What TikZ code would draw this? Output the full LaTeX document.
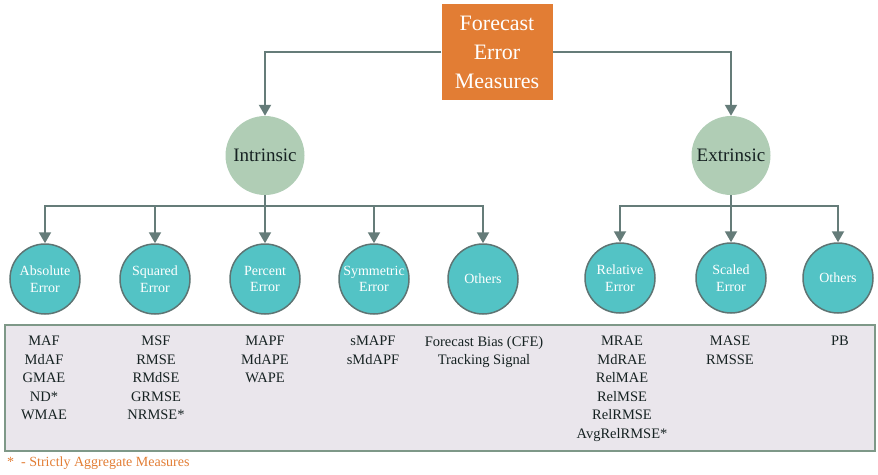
\documentclass[tikz,border=0pt]{standalone}
\usepackage{fontspec}
\setmainfont{Liberation Serif}
\usetikzlibrary{arrows.meta,positioning}
\definecolor{rootorange}{RGB}{226,125,52}
\definecolor{branchgreen}{RGB}{176,205,181}
\definecolor{leafteal}{RGB}{83,195,197}
\definecolor{leafedge}{RGB}{94,116,115}
\definecolor{arrowgray}{RGB}{101,124,121}
\definecolor{listfill}{RGB}{234,230,236}
\definecolor{listedge}{RGB}{126,152,136}
\definecolor{listtext}{RGB}{22,34,34}
\begin{document}
\begin{tikzpicture}[x=1pt,y=-1pt,
    root/.style={fill=rootorange,text=white,minimum width=111pt,minimum height=96pt,
      align=center,font=\fontsize{22}{29}\selectfont},
    branch/.style={circle,fill=branchgreen,minimum size=79pt,inner sep=0pt,
      text=listtext,font=\fontsize{19}{22}\selectfont},
    leaf/.style={circle,draw=leafedge,line width=1.5pt,fill=leafteal,text=white,
      minimum size=70pt,inner sep=0pt,align=center,font=\fontsize{14}{16.5}\selectfont},
    arr/.style={draw=arrowgray,line width=2pt,-{Triangle[width=12pt,length=11pt]}},
    measures/.style={anchor=north,align=center,inner sep=0pt,text=listtext,
      font=\fontsize{14.5}{18.5}\selectfont}]
  \useasboundingbox (0,0) rectangle (878,474);
  % top and the two branches
  \node[root] (fem) at (497,52) {Forecast\\Error\\Measures};
  \node[branch] (intr) at (265,155.5) {Intrinsic};
  \node[branch] (extr) at (731,155.5) {Extrinsic};
  \draw[arr] (fem.west) -| (intr.north);
  \draw[arr] (fem.east) -| (extr.north);
  % leaves
  \node[leaf] (abs) at (45,279) {Absolute\\Error};
  \node[leaf] (sqr) at (155,279) {Squared\\Error};
  \node[leaf] (pct) at (265,279) {Percent\\Error};
  \node[leaf] (sym) at (374,279) {Symmetric\\Error};
  \node[leaf] (oth) at (483,279) {Others};
  \node[leaf] (rel) at (620,278) {Relative\\Error};
  \node[leaf] (scl) at (731,278) {Scaled\\Error};
  \node[leaf] (ext) at (838,278) {Others};
  \foreach \c in {abs,sqr,pct,sym,oth}
    \draw[arr] (intr.south) -- ++(0,11) -| (\c.north);
  \foreach \c in {rel,scl,ext}
    \draw[arr] (extr.south) -- ++(0,11) -| (\c.north);
  % list of measures
  \node[draw=listedge,fill=listfill,line width=2pt,minimum width=870pt,
    minimum height=126pt,inner sep=0pt] (list) at (440,388) {};
  \node[measures] (mabs) at (44,336) {MAF\\MdAF\\GMAE\\ND*\\WMAE};
  \node[measures] (msqr) at (156,336) {MSF\\RMSE\\RMdSE\\GRMSE\\NRMSE*};
  \node[measures] (mpct) at (265,336) {MAPF\\MdAPE\\WAPE};
  \node[measures] (msym) at (373,336) {sMAPF\\sMdAPF};
  \node[measures] (moth) at (484,336) {Forecast Bias (CFE)\\Tracking Signal};
  \node[measures] (mrel) at (622,336) {MRAE\\MdRAE\\RelMAE\\RelMSE\\RelRMSE\\AvgRelRMSE*};
  \node[measures] (mscl) at (730,336) {MASE\\RMSSE};
  \node[measures] (mext) at (840,336) {PB};
  \node[anchor=west,inner sep=0pt,text=rootorange,font=\fontsize{14}{16}\selectfont]
    (note) at (7,463) {*\ \ - Strictly Aggregate Measures};
\end{tikzpicture}
\end{document}
